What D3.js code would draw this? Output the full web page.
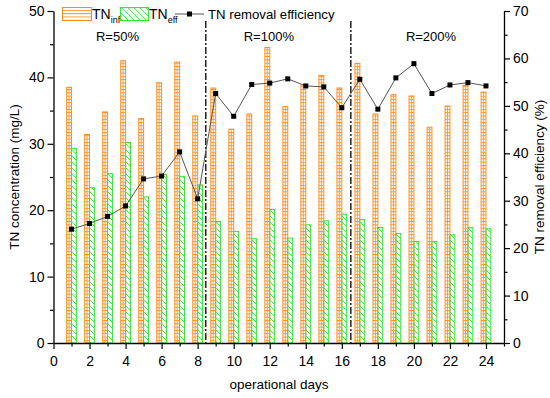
<!DOCTYPE html>
<html>
<head>
<meta charset="utf-8">
<script src="https://cdn.jsdelivr.net/npm/d3@7"></script>
<style>
  body { margin: 0; background: #fff; }
  svg text { font-family: "Liberation Sans", Arial, sans-serif; fill: #000; }
</style>
</head>
<body>
<svg id="chart" width="550" height="398"></svg>
<script>
// data
var days = d3.range(1, 25);
var tnInf = [38.5, 31.4, 34.8, 42.5, 33.8, 39.2, 42.3, 34.2, 38.4, 32.2, 34.5, 44.5,
             35.6, 38.9, 40.3, 38.4, 42.1, 34.5, 37.4, 37.2, 32.5, 35.7, 38.8, 37.8];
var tnEff = [29.3, 23.4, 25.5, 30.2, 22.0, 25.4, 25.1, 23.8, 18.3, 16.8, 15.7, 20.1,
             15.8, 17.8, 18.4, 19.4, 18.6, 17.4, 16.5, 15.3, 15.3, 16.3, 17.4, 17.2];
var removal = [24.0, 25.2, 26.7, 28.9, 34.6, 35.2, 40.3, 30.4, 52.6, 47.8, 54.5, 54.8,
               55.7, 54.2, 54.0, 49.6, 55.6, 49.3, 55.9, 58.9, 52.6, 54.4, 54.9, 54.2];
var phaseBreaks = [8.45, 16.5];
var phaseLabels = [{x: 3.55, t: "R=50%"}, {x: 11.95, t: "R=100%"}, {x: 20.95, t: "R=200%"}];

var orange = "#ff8c1a", green = "#33e633";

var svg = d3.select("#chart");
var x = d3.scaleLinear().domain([0, 25]).range([53.5, 504]);
var yL = d3.scaleLinear().domain([0, 50]).range([343, 11]);
var yR = d3.scaleLinear().domain([0, 70]).range([343, 11]);

// hatch patterns
var defs = svg.append("defs");
var pInf = defs.append("pattern").attr("id", "pinf").attr("patternUnits", "userSpaceOnUse")
  .attr("width", 6).attr("height", 3.3);
pInf.append("line").attr("x1", 0).attr("x2", 6).attr("y1", 0.5).attr("y2", 0.5)
  .attr("stroke", orange).attr("stroke-width", 0.9);
var pEff = defs.append("pattern").attr("id", "peff").attr("patternUnits", "userSpaceOnUse")
  .attr("width", 6).attr("height", 6);
pEff.append("path").attr("d", "M-1,-1L7,7M-4,2L2,8M4,-4L10,2")
  .attr("stroke", green).attr("stroke-width", 0.9);

var bw = x(0.27) - x(0);

// TN inf bars
svg.append("g").selectAll("rect").data(days).join("rect")
  .attr("x", function(d) { return x(d) - bw; })
  .attr("y", function(d, i) { return yL(tnInf[i]); })
  .attr("width", bw)
  .attr("height", function(d, i) { return yL(0) - yL(tnInf[i]); })
  .attr("fill", "url(#pinf)").attr("stroke", orange).attr("stroke-width", 1);
svg.append("g").selectAll("line").data(days).join("line")
  .attr("x1", function(d) { return x(d) - bw / 2; })
  .attr("x2", function(d) { return x(d) - bw / 2; })
  .attr("y1", function(d, i) { return yL(tnInf[i]); })
  .attr("y2", yL(0))
  .attr("stroke", orange).attr("stroke-width", 0.8);

// TN eff bars
svg.append("g").selectAll("rect").data(days).join("rect")
  .attr("x", function(d) { return x(d); })
  .attr("y", function(d, i) { return yL(tnEff[i]); })
  .attr("width", bw)
  .attr("height", function(d, i) { return yL(0) - yL(tnEff[i]); })
  .attr("fill", "url(#peff)").attr("stroke", green).attr("stroke-width", 1);

// phase separators
svg.append("g").selectAll("line").data(phaseBreaks).join("line")
  .attr("x1", function(d) { return x(d); }).attr("x2", function(d) { return x(d); })
  .attr("y1", 21).attr("y2", 343)
  .attr("stroke", "#222").attr("stroke-width", 1.5)
  .attr("stroke-dasharray", "7,2,2,2");

svg.append("g").selectAll("text").data(phaseLabels).join("text")
  .attr("x", function(d) { return x(d.x); }).attr("y", 41)
  .attr("text-anchor", "middle").attr("font-size", 13)
  .text(function(d) { return d.t; });

// removal efficiency line
var line = d3.line().x(function(d) { return x(d); })
  .y(function(d, i) { return yR(removal[i]); });
svg.append("path").datum(days).attr("d", line)
  .attr("fill", "none").attr("stroke", "#555").attr("stroke-width", 1);
svg.append("g").selectAll("rect").data(days).join("rect")
  .attr("x", function(d) { return x(d) - 2.5; })
  .attr("y", function(d, i) { return yR(removal[i]) - 2.5; })
  .attr("width", 5).attr("height", 5).attr("fill", "#000");

// axes
function styleAxis(g) {
  g.selectAll("path").attr("stroke", "#000").attr("stroke-width", 1.3);
  g.selectAll("line").attr("stroke", "#000").attr("stroke-width", 1.2);
  g.selectAll("text").attr("font-size", 14)
    .attr("font-family", "Liberation Sans, Arial, sans-serif");
}

// left
var gl = svg.append("g").attr("transform", "translate(" + x(0) + ",0)");
gl.call(d3.axisLeft(yL).tickValues(d3.range(0, 51, 10)).tickSize(6).tickPadding(3).tickSizeOuter(0));
gl.append("g").call(d3.axisLeft(yL).tickValues(d3.range(5, 50, 10)).tickSize(3.5).tickFormat("").tickSizeOuter(0))
  .select(".domain").remove();
styleAxis(gl);

// right
var gr = svg.append("g").attr("transform", "translate(" + x(25) + ",0)");
gr.call(d3.axisRight(yR).tickValues(d3.range(0, 71, 10)).tickSize(6).tickPadding(3).tickSizeOuter(0));
gr.append("g").call(d3.axisRight(yR).tickValues(d3.range(5, 70, 10)).tickSize(3.5).tickFormat("").tickSizeOuter(0))
  .select(".domain").remove();
styleAxis(gr);

// bottom
var gb = svg.append("g").attr("transform", "translate(0," + yL(0) + ")");
gb.call(d3.axisBottom(x).tickValues(d3.range(0, 25, 2)).tickSize(6).tickPadding(7).tickSizeOuter(0));
gb.append("g").call(d3.axisBottom(x).tickValues(d3.range(1, 26, 2)).tickSize(3.5).tickFormat("").tickSizeOuter(0))
  .select(".domain").remove();
styleAxis(gb);

// axis titles
svg.append("text").attr("transform", "translate(19,177) rotate(-90)")
  .attr("text-anchor", "middle").attr("font-size", 13.5).text("TN concentration (mg/L)");
svg.append("text").attr("transform", "translate(544,177) rotate(-90)")
  .attr("text-anchor", "middle").attr("font-size", 13.5).text("TN removal efficiency (%)");
svg.append("text").attr("x", 279).attr("y", 389)
  .attr("text-anchor", "middle").attr("font-size", 13.5).text("operational days");

// legend
var lg = svg.append("g");
lg.append("rect").attr("x", 62.5).attr("y", 7.5).attr("width", 29).attr("height", 13)
  .attr("fill", "url(#pinf)").attr("stroke", orange).attr("stroke-width", 1);
var t1 = lg.append("text").attr("x", 92).attr("y", 19).attr("font-size", 14);
t1.append("tspan").text("TN");
t1.append("tspan").attr("font-size", 9).attr("dy", 4).text("inf");
lg.append("rect").attr("x", 120.5).attr("y", 7.5).attr("width", 28).attr("height", 13)
  .attr("fill", "url(#peff)").attr("stroke", green).attr("stroke-width", 1);
var t2 = lg.append("text").attr("x", 149).attr("y", 19).attr("font-size", 14);
t2.append("tspan").text("TN");
t2.append("tspan").attr("font-size", 9).attr("dy", 4).text("eff");
lg.append("line").attr("x1", 175).attr("x2", 204).attr("y1", 14).attr("y2", 14)
  .attr("stroke", "#555").attr("stroke-width", 1);
lg.append("rect").attr("x", 187).attr("y", 11.5).attr("width", 5).attr("height", 5).attr("fill", "#000");
lg.append("text").attr("x", 208).attr("y", 19).attr("font-size", 13.2).text("TN removal efficiency");
</script>
</body>
</html>
